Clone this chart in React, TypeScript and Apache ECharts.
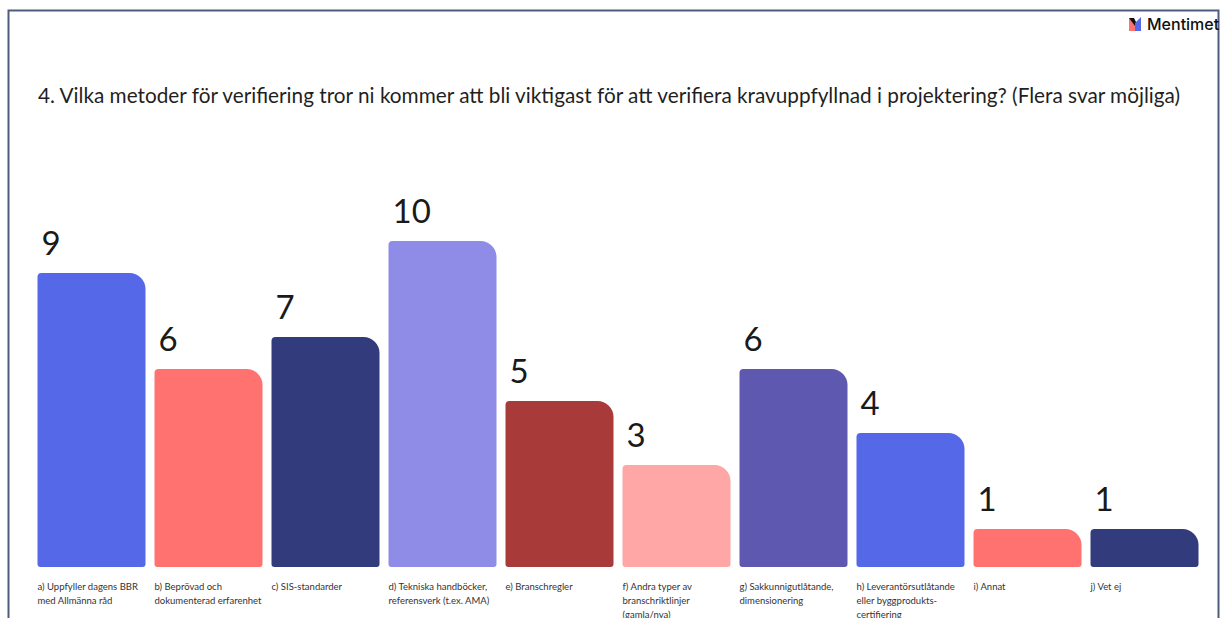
import React, { useEffect, useRef } from "react";
import * as echarts from "echarts";

const title =
  "4. Vilka metoder för verifiering tror ni kommer att bli viktigast för att verifiera kravuppfyllnad i projektering? (Flera svar möjliga)";
const categories = [
  "a) Uppfyller dagens BBR\nmed Allmänna råd",
  "b) Beprövad och\ndokumenterad erfarenhet",
  "c) SIS-standarder",
  "d) Tekniska handböcker,\nreferensverk (t.ex. AMA)",
  "e) Branschregler",
  "f) Andra typer av\nbranschriktlinjer\n(gamla/nya)",
  "g) Sakkunnigutlåtande,\ndimensionering",
  "h) Leverantörsutlåtande\neller byggprodukts-\ncertifiering",
  "i) Annat",
  "j) Vet ej",
];
const values = [9, 6, 7, 10, 5, 3, 6, 4, 1, 1];
const colors = ["#5569E8", "#FF7270", "#323C7C", "#8F8CE8", "#A83B3A", "#FFA6A6", "#5F58B0", "#5569E8", "#FF7270", "#323C7C"];

const BAR_WIDTH = 108;
const BAR_FOOT = 6; // every bar runs this many pixels below its zero line

export default function App() {
  const ref = useRef<HTMLDivElement>(null);
  useEffect(() => {
    document.body.style.margin = "0";
    const chart = echarts.init(ref.current!, null, { renderer: "svg" });
    chart.setOption({
      animation: false,
      backgroundColor: "#ffffff",
      grid: { left: 33, right: 18, top: 241, bottom: 57, outerBoundsMode: "none" },
      xAxis: {
        type: "category",
        data: categories,
        axisLine: { show: false },
        axisTick: { show: false },
        axisLabel: {
          interval: 0,
          margin: 18,
          width: BAR_WIDTH,
          align: "center",
          verticalAlign: "top",
          lineHeight: 14,
          formatter: (v: string) =>
            v.split("\n").map((l) => `{l|${l}}`).join("\n"),
          rich: {
            l: { width: BAR_WIDTH, align: "left", fontFamily: "Lato", fontSize: 9.5, color: "#333333", lineHeight: 14 },
          },
        },
      },
      yAxis: { type: "value", min: 0, max: 10, show: false, splitLine: { show: false } },
      series: [
        {
          type: "custom",
          clip: false,
          encode: { x: 0, y: 1 },
          data: values.map((v, i) => [i, v]),
          renderItem: (_p: any, api: any) => {
            const i = api.value(0);
            const v = api.value(1);
            const [cx, top] = api.coord([i, v]);
            const [, zero] = api.coord([i, 0]);
            const left = cx - BAR_WIDTH / 2;
            return {
              type: "group",
              children: [
                {
                  type: "rect",
                  shape: { x: left, y: top, width: BAR_WIDTH, height: zero - top + BAR_FOOT, r: [4, 16, 3, 3] },
                  style: { fill: colors[i] },
                },
                {
                  type: "text",
                  x: left + 4,
                  y: top - 15,
                  style: {
                    text: String(v),
                    align: "left",
                    verticalAlign: "bottom",
                    fontFamily: "Lato",
                    fontSize: 33,
                    fill: "#1a1a1a",
                  },
                },
              ],
            };
          },
        },
      ],
      graphic: [
        { type: "rect", shape: { x: 8.5, y: 10.5, width: 1210, height: 700 }, style: { fill: "none", stroke: "#4F5D7C", lineWidth: 2 }, silent: true },
        { type: "text", x: 38, y: 84, style: { text: title, fontFamily: "Lato", fontSize: 20.75, fill: "#1f1f1f" } },
        { type: "polygon", shape: { points: [[1129, 18], [1135, 23], [1135, 31], [1129, 31]] }, style: { fill: "#FF7270" } },
        { type: "polygon", shape: { points: [[1129, 18], [1134, 18], [1137, 24], [1135, 26]] }, style: { fill: "#101010" } },
        { type: "polygon", shape: { points: [[1141, 17], [1141, 31], [1135, 31], [1135, 23]] }, style: { fill: "#5569E8" } },
        { type: "text", x: 1147, y: 16, style: { text: "Mentimet", fontFamily: "Inter", fontSize: 16, fontWeight: 500, fill: "#101010" } },
      ],
    });
    return () => chart.dispose();
  }, []);
  return <div ref={ref} style={{ width: 1221, height: 618 }} />;
}
